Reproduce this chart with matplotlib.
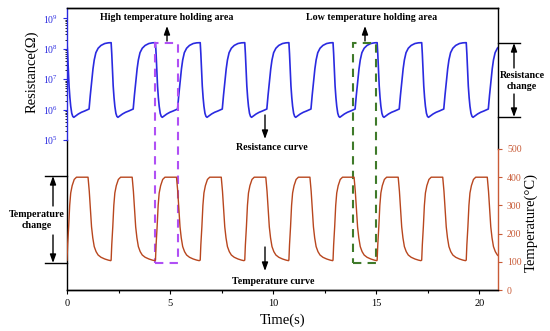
import matplotlib
matplotlib.use('Agg')
import matplotlib.pyplot as plt
import matplotlib.transforms as mtransforms
from matplotlib.patches import Rectangle
from matplotlib.lines import Line2D

plt.rcParams['font.family'] = ['Liberation Serif', 'DejaVu Serif']
plt.rcParams['mathtext.fontset'] = 'custom'
plt.rcParams['mathtext.rm'] = 'Liberation Serif'
plt.rcParams['mathtext.it'] = 'Liberation Serif:italic'

# start time of every heating pulse (s)
cycle_start = [0.0, 2.14, 4.29, 6.46, 8.62, 10.76, 12.9, 15.04, 17.2, 19.36]

# one cycle of the temperature curve (offset from pulse start, degC)
temp_dt = [0.0, 0.03, 0.08, 0.13, 0.18, 0.25, 0.35, 0.46, 1.02, 1.08, 1.13, 1.19,
           1.25, 1.32, 1.41, 1.51, 1.65, 1.83, 2.0, 2.12]
temp_val = [106, 160, 224, 300, 344, 370, 392, 400, 400, 350, 290, 224,
            185, 154, 136, 124, 116, 110, 106, 104]

# one cycle of the resistance curve (offset from pulse start, Ohm)
res_dt = [0.0, 0.03, 0.06, 0.10, 0.14, 0.18, 0.23, 0.28, 0.33, 0.42, 0.55, 0.70,
          0.85, 1.0, 1.07, 1.13, 1.20, 1.26, 1.32, 1.40, 1.51, 1.65, 1.83, 2.0, 2.12]
res_val = [1.6e8, 7e7, 2.5e7, 6e6, 2.5e6, 1.3e6, 7.6e5, 6e5, 5.6e5, 6.2e5, 7.2e5, 8.2e5,
           9e5, 1.0e6, 1.05e6, 3e6, 9e6, 2.2e7, 4.3e7, 7.5e7, 1.05e8, 1.3e8, 1.5e8, 1.58e8, 1.6e8]

res_ticks = [1e5, 1e6, 1e7, 1e8, 1e9]
res_ticklabels = [r'$10^{5}$', r'$10^{6}$', r'$10^{7}$', r'$10^{8}$', r'$10^{9}$']
temp_ticks = [0, 100, 200, 300, 400, 500]
time_ticks = [0, 5, 10, 15, 20]

blue = '#2a2ae0'
red = '#b8461e'
axred = '#c85a36'
purple = '#b050f5'
green = '#3f7a2a'


def tile(dt, val):
    t, v = [], []
    for s in cycle_start:
        for d, y in zip(dt, val):
            t.append(s + d)
            v.append(y)
    return t, v


def F(x, y):
    # pixel position in the 550x331 picture -> figure fraction
    return (x / 550, 1 - y / 331)


fig = plt.figure(figsize=(5.5, 3.31), dpi=100)
ax = fig.add_axes([67 / 550, 1 - 290 / 331, 431 / 550, 282 / 331])
ax2 = ax.twinx()

t_r, r = tile(res_dt, res_val)
t_T, T = tile(temp_dt, temp_val)
ax.plot(t_r, r, color=blue, lw=1.2)
ax2.plot(t_T, T, color=red, lw=1.0)

ax.set_xlim(0, 20.9)
ax.set_xticks(time_ticks)
ax.set_xticks([2.5, 7.5, 12.5, 17.5], minor=True)
ax.tick_params(axis='x', labelsize=7.5, direction='out', length=3, width=0.8)
ax.tick_params(axis='x', which='minor', length=2, width=0.8)

ax.set_yscale('log')
ax.set_ylim(10 ** 0.066, 10 ** 9.345)
ax.set_yticks(res_ticks)
ax.set_yticklabels(res_ticklabels)
ax.set_yticks([k * 10 ** n for n in range(5, 9) for k in range(2, 10)], minor=True)
ax.set_yticklabels([], minor=True)
ax.tick_params(axis='y', colors=blue, labelsize=7, direction='out', length=3, width=0.8)
ax.tick_params(axis='y', which='minor', length=1.5, width=0.6)

ax2.set_ylim(0, 1000)
ax2.set_yticks(temp_ticks)
ax2.tick_params(axis='y', colors=axred, labelsize=7, direction='out', length=3, width=0.8)

for a in (ax, ax2):
    for s in a.spines.values():
        s.set_linewidth(1.0)
ax.spines['right'].set_visible(False)
ax2.spines['left'].set_visible(False)
ax.spines['left'].set_color(blue)
ax.spines['left'].set_bounds(1e5, 10 ** 9.345)
ax2.spines['right'].set_color(axred)
ax2.spines['right'].set_bounds(0, 500)
ax.add_line(Line2D([0, 0], [0, 0.532], transform=ax.transAxes, color='k', lw=1.0, clip_on=False))
ax.add_line(Line2D([1, 1], [0.5, 1], transform=ax.transAxes, color='k', lw=1.0, clip_on=False))

ax.set_ylabel('Resistance(Ω)', fontsize=10.5)
ax.yaxis.set_label_coords(-0.067, 0.773)
ax2.set_ylabel('Temperature(°C)', fontsize=10.5, rotation=90)
ax2.yaxis.set_label_coords(1.062, 0.241)
ax.set_xlabel('Time(s)', fontsize=10.5)
ax.xaxis.set_label_coords(0.501, -0.082)

# holding area boxes
tr = mtransforms.blended_transform_factory(ax.transData, ax.transAxes)
ax2.add_patch(Rectangle((4.27, 0.0957), 1.1, 0.876 - 0.0957, transform=tr, fill=False,
                        ec=purple, lw=1.5, ls=(0, (4, 3)), clip_on=False))
ax2.add_patch(Rectangle((13.87, 0.0957), 1.13, 0.876 - 0.0957, transform=tr, fill=False,
                        ec=green, lw=1.5, ls=(0, (4, 3)), clip_on=False))

bold = dict(fontsize=7.2, fontweight='bold', ha='center', va='center')
arr = dict(arrowstyle='-|>,head_length=0.5,head_width=0.18', color='k', lw=1.0,
           shrinkA=0, shrinkB=0)


def arrow(x0, y0, x1, y1):
    ax.annotate('', xy=F(x1, y1), xytext=F(x0, y0), xycoords='figure fraction',
                textcoords='figure fraction', arrowprops=arr, annotation_clip=False)


fig.text(*F(167, 17), 'High temperature holding area', **bold)
arrow(167, 41, 167, 26)
fig.text(*F(372, 17), 'Low temperature holding area', **bold)
arrow(365, 41, 365, 26)
fig.text(*F(272, 147), 'Resistance curve', **bold)
arrow(265, 115, 265, 139)
fig.text(*F(273, 281), 'Temperature curve', **bold)
arrow(265, 247, 265, 271)

# resistance change marker (right)
for yy in (43, 117):
    fig.add_artist(Line2D([498 / 550, 520 / 550], [1 - yy / 331] * 2, color='k', lw=1.0))
arrow(514, 68, 514, 43)
arrow(514, 94, 514, 117)
fig.text(*F(522, 81), 'Resistance\nchange', linespacing=1.3, **bold)

# temperature change marker (left)
for yy in (176, 263):
    fig.add_artist(Line2D([45 / 550, 67 / 550], [1 - yy / 331] * 2, color='k', lw=1.0))
arrow(53, 206, 53, 176)
arrow(53, 235, 53, 263)
fig.text(*F(37, 220), 'Temperature\nchange', linespacing=1.3, **bold)

fig.savefig('out.png', dpi=100)
